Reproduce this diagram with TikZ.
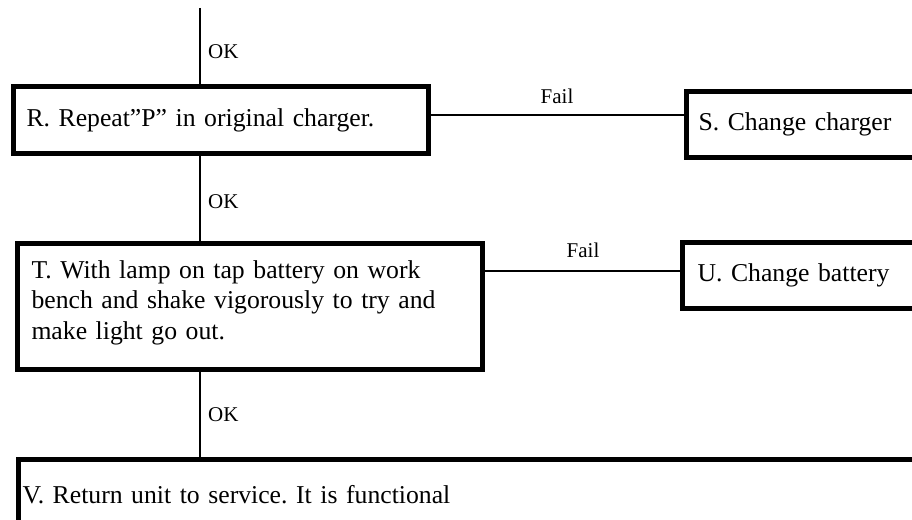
\documentclass[tikz,border=0pt]{standalone}
\usepackage{fontspec}
\setmainfont{Liberation Serif}
\frenchspacing
\begin{document}
\begin{tikzpicture}[x=1pt,y=-1pt,
  box/.style={draw, line width=5pt, rectangle, anchor=north west, align=left,
    font=\fontsize{25.7}{30.5}\selectfont, inner ysep=0pt},
  lbl/.style={font=\fontsize{21}{24}\selectfont, inner sep=0pt},
  conn/.style={line width=1.5pt}]
\clip (0,0) rectangle (912,519);
\node[box, inner xsep=13.5pt, text width=388pt, minimum height=67pt] (R) at (10.5,84) {R. Repeat”P” in original charger.};
\node[box, inner xsep=12pt, text width=400pt, minimum height=65.5pt] (S) at (684,89) {S. Change charger};
\node[box, inner xsep=14pt, text width=437pt, minimum height=126pt] (T) at (15,241) {T. With lamp on tap battery on work\\ bench and shake vigorously to try and\\ make light go out.\rule[-13pt]{0pt}{1pt}};
\node[box, inner xsep=15pt, text width=400pt, minimum height=66pt] (U) at (680,240) {U. Change battery};
\node[box, inner xsep=4.5pt, text width=1000pt, minimum height=70pt] (V) at (15.5,457) {V. Return unit to service. It is functional};
\coordinate (top) at (200,8);
\draw[conn] (top) -- (top |- R.north);
\draw[conn] (top |- R.south) -- (top |- T.north);
\draw[conn] (top |- T.south) -- (top |- V.north);
\draw[conn] (R.east |- 0,115) -- (S.west |- 0,115);
\draw[conn] (T.east |- 0,271) -- (U.west |- 0,271);
\node[lbl, anchor=west] (ok1) at (208,52) {OK};
\node[lbl, anchor=west] (ok2) at (208,202) {OK};
\node[lbl, anchor=west] (ok3) at (208,415) {OK};
\node[lbl] (f1) at (557,96) {Fail};
\node[lbl] (f2) at (583,250) {Fail};
\end{tikzpicture}
\end{document}
